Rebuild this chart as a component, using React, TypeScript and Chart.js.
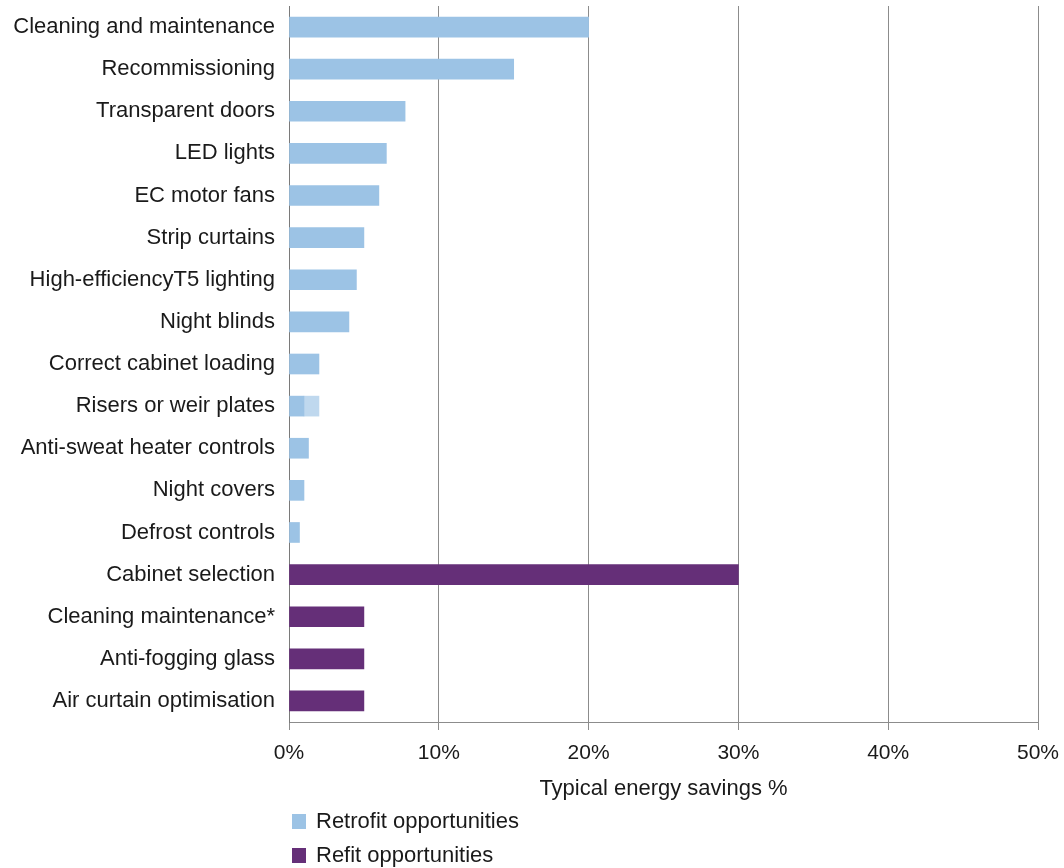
import { useEffect, useRef } from "react";
import { Chart, registerables } from "chart.js";

Chart.register(...registerables);

const categories = [
  "Cleaning and maintenance",
  "Recommissioning",
  "Transparent doors",
  "LED lights",
  "EC motor fans",
  "Strip curtains",
  "High-efficiencyT5 lighting",
  "Night blinds",
  "Correct cabinet loading",
  "Risers or weir plates",
  "Anti-sweat heater controls",
  "Night covers",
  "Defrost controls",
  "Cabinet selection",
  "Cleaning maintenance*",
  "Anti-fogging glass",
  "Air curtain optimisation",
];

const retrofitValues = [20, 15, 7.75, 6.5, 6, 5, 4.5, 4, 2, 1, 1.3, 1, 0.7, null, null, null, null];
// upper part of the "Risers or weir plates" range (1% → 2%)
const retrofitRangeExtra = [null, null, null, null, null, null, null, null, null, 1, null, null, null, null, null, null, null];
const refitValues = [null, null, null, null, null, null, null, null, null, null, null, null, null, 30, 5, 5, 5];

const xTickValues = [0, 10, 20, 30, 40, 50];

const FONT = "'Liberation Sans', Arial, Helvetica, sans-serif";
const BLUE = "#9cc3e5";
const BLUE_LIGHT = "#bfd8ee";
const PURPLE = "#652f78";
const GRID = "#8c8c8c";

const stackedLegend = {
  id: "stackedLegend",
  afterDraw(chart: any) {
    const ctx = chart.ctx;
    const items = chart.data.datasets.filter((d: any) => d.showInLegend);
    const x0 = chart.chartArea.left + 3;
    const rows = [821, 855];
    ctx.save();
    ctx.font = `22px ${FONT}`;
    ctx.textBaseline = "middle";
    ctx.textAlign = "left";
    items.forEach((d: any, i: number) => {
      const cy = rows[i];
      ctx.fillStyle = d.backgroundColor;
      ctx.fillRect(x0, cy - 7, 14, 15);
      ctx.fillStyle = "#1a1a1a";
      ctx.fillText(d.label, x0 + 24, cy + 1);
    });
    ctx.restore();
  },
};

export default function App() {
  const ref = useRef<HTMLCanvasElement | null>(null);

  useEffect(() => {
    if (!ref.current) return;
    const chart = new Chart(ref.current, {
      type: "bar",
      data: {
        labels: categories,
        datasets: [
          {
            label: "Retrofit opportunities",
            data: retrofitValues,
            backgroundColor: BLUE,
            barThickness: 20,
            showInLegend: true,
          } as any,
          {
            label: "Retrofit range",
            data: retrofitRangeExtra,
            backgroundColor: BLUE_LIGHT,
            barThickness: 20,
            showInLegend: false,
          } as any,
          {
            label: "Refit opportunities",
            data: refitValues,
            backgroundColor: PURPLE,
            barThickness: 20,
            showInLegend: true,
          } as any,
        ],
      },
      options: {
        indexAxis: "y",
        animation: false,
        responsive: false,
        maintainAspectRatio: false,
        layout: { padding: { top: 6, right: 26, bottom: 66, left: 0 } },
        plugins: {
          legend: { display: false },
          tooltip: { enabled: false },
        },
        scales: {
          x: {
            stacked: true,
            min: 0,
            max: 50,
            afterBuildTicks: (scale: any) => {
              scale.ticks = xTickValues.map((v) => ({ value: v }));
            },
            afterFit: (scale: any) => {
              scale.height = 80;
              scale.paddingLeft = 0;
              scale.paddingRight = 0;
            },
            grid: {
              color: GRID,
              lineWidth: 1,
              tickLength: 8,
              drawTicks: true,
            },
            border: { display: true, color: GRID, width: 1 },
            ticks: {
              color: "#1a1a1a",
              font: { family: FONT, size: 21 },
              padding: 11,
              maxRotation: 0,
              callback: (v: any) => `${v}%`,
            },
            title: {
              display: true,
              text: "Typical energy savings %",
              color: "#1a1a1a",
              font: { family: FONT, size: 22 },
              padding: { top: 0, bottom: 0 },
            },
          },
          y: {
            stacked: true,
            afterFit: (scale: any) => {
              scale.width = 289;
              scale.paddingTop = 0;
              scale.paddingBottom = 0;
            },
            grid: { display: false, drawTicks: false },
            border: { display: true, color: "#7a7a7a", width: 1 },
            ticks: {
              color: "#1a1a1a",
              font: { family: FONT, size: 22 },
              padding: 14,
              autoSkip: false,
            },
          },
        },
      },
      plugins: [stackedLegend],
    } as any);
    return () => chart.destroy();
  }, []);

  return (
    <div style={{ position: "absolute", left: 0, top: 0, width: 1064, height: 868, background: "#fff" }}>
      <canvas ref={ref} width={1064} height={868} style={{ width: 1064, height: 868 }} />
    </div>
  );
}
